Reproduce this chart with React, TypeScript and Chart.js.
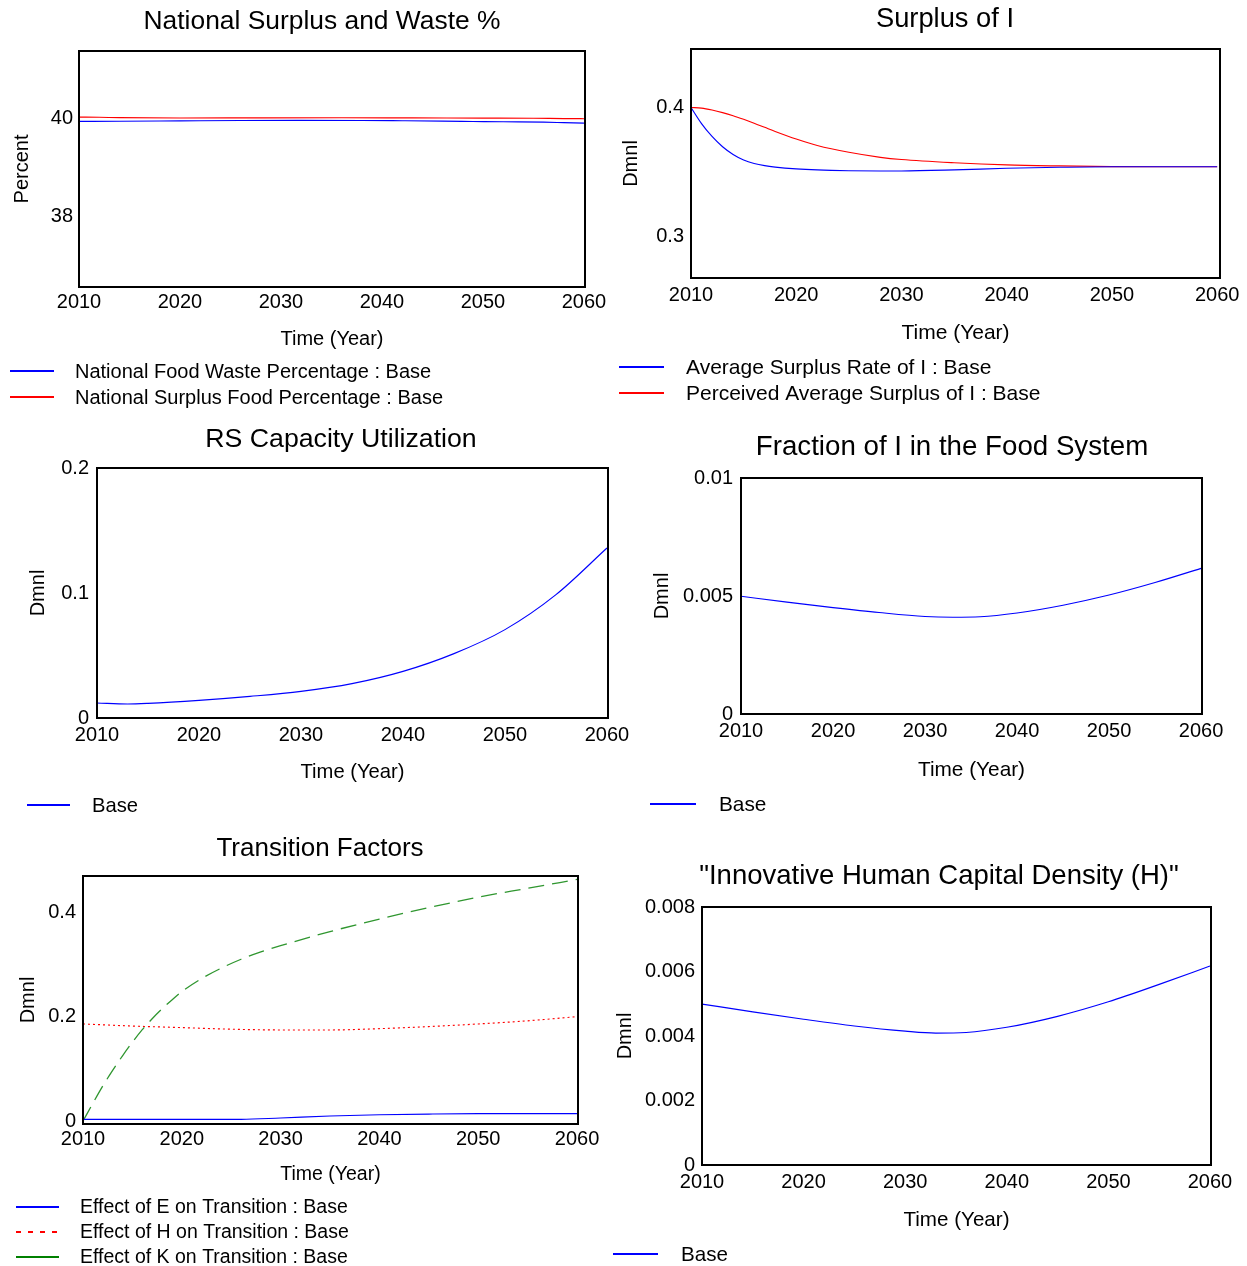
import React, { useEffect, useRef } from 'react';
import { Chart, registerables } from 'chart.js';

Chart.register(...registerables);

const FONT = "'Liberation Sans', Arial, Helvetica, sans-serif";
const PAGE_W = 1247;
const PAGE_H = 1266;

// ---------- shared axis ticks ----------
const xTicks = [2010, 2020, 2030, 2040, 2050, 2060];
const xTickLabels = ['2010', '2020', '2030', '2040', '2050', '2060'];

// ---------- Panel 1: National Surplus and Waste % ----------
const p1WasteYears = [2010, 2014, 2020, 2026, 2032, 2038, 2042, 2046, 2049, 2052, 2056, 2058, 2060];
const p1WasteValues = [39.938, 39.942, 39.949, 39.956, 39.959, 39.957, 39.951, 39.944, 39.937, 39.93, 39.922, 39.913, 39.904];
const p1SurplusYears = [2010, 2012, 2014, 2020, 2028, 2036, 2043, 2050, 2055, 2058, 2060];
const p1SurplusValues = [40.026, 40.022, 40.014, 40.007, 40.011, 40.013, 40.009, 40.006, 40.003, 39.995, 39.993];
const p1YTicks = [38, 40];
const p1YTickLabels = ['38', '40'];

// ---------- Panel 2: Surplus of I ----------
const p2Years = [2010, 2011, 2012, 2013, 2014, 2015, 2016, 2017, 2018, 2020, 2022, 2025, 2028, 2030, 2035, 2040, 2045, 2050, 2055, 2060];
const p2AvgSurplus = [0.4, 0.3875, 0.3775, 0.3695, 0.3635, 0.3592, 0.3565, 0.3548, 0.3537, 0.3523, 0.3515, 0.3509, 0.3507, 0.3507, 0.3515, 0.3528, 0.3536, 0.354, 0.354, 0.354];
const p2Perceived = [0.4, 0.3995, 0.398, 0.396, 0.3936, 0.3908, 0.3878, 0.3846, 0.3814, 0.3755, 0.3705, 0.3652, 0.3613, 0.3596, 0.3571, 0.3554, 0.3546, 0.3541, 0.354, 0.354];
const p2YTicks = [0.3, 0.4];
const p2YTickLabels = ['0.3', '0.4'];

// ---------- Panel 3: RS Capacity Utilization ----------
const p3Years = [2010, 2013, 2015, 2020, 2025, 2030, 2035, 2040, 2045, 2050, 2055, 2060];
const p3Values = [0.012, 0.0112, 0.0117, 0.0141, 0.0173, 0.0213, 0.0275, 0.0373, 0.0515, 0.0707, 0.0987, 0.136];
const p3YTicks = [0, 0.1, 0.2];
const p3YTickLabels = ['0', '0.1', '0.2'];

// ---------- Panel 4: Fraction of I in the Food System ----------
const p4Years = [2010, 2015, 2020, 2025, 2030, 2033, 2036, 2040, 2045, 2050, 2055, 2060];
const p4Values = [0.00499, 0.00474, 0.00451, 0.0043, 0.00413, 0.0041, 0.00412, 0.00428, 0.00461, 0.00504, 0.00557, 0.00617];
const p4YTicks = [0, 0.005, 0.01];
const p4YTickLabels = ['0', '0.005', '0.01'];

// ---------- Panel 5: Transition Factors ----------
const p5EYears = [2010, 2020, 2026, 2030, 2035, 2040, 2045, 2050, 2060];
const p5EValues = [0.003, 0.003, 0.0032, 0.0058, 0.0095, 0.012, 0.0133, 0.014, 0.014];
const p5HYears = [2010, 2015, 2020, 2025, 2030, 2035, 2040, 2045, 2050, 2055, 2060];
const p5HValues = [0.186, 0.182, 0.179, 0.176, 0.1745, 0.1745, 0.177, 0.181, 0.186, 0.192, 0.2];
const p5KYears = [2010, 2011, 2012, 2013, 2014, 2015, 2016, 2017, 2018, 2019, 2020, 2022, 2024, 2026, 2028, 2030, 2035, 2040, 2045, 2050, 2055, 2060];
const p5KValues = [0, 0.034, 0.067, 0.097, 0.125, 0.151, 0.175, 0.196, 0.215, 0.232, 0.248, 0.273, 0.293, 0.31, 0.324, 0.336, 0.363, 0.387, 0.409, 0.429, 0.446, 0.463];
const p5YTicks = [0, 0.2, 0.4];
const p5YTickLabels = ['0', '0.2', '0.4'];

// ---------- Panel 6: Innovative Human Capital Density (H) ----------
const p6Years = [2010, 2015, 2020, 2025, 2030, 2033, 2036, 2040, 2045, 2050, 2055, 2060];
const p6Values = [0.00499, 0.00475, 0.00452, 0.00431, 0.00415, 0.00409, 0.00411, 0.00427, 0.00461, 0.00506, 0.0056, 0.00617];
const p6YTicks = [0, 0.002, 0.004, 0.006, 0.008];
const p6YTickLabels = ['0', '0.002', '0.004', '0.006', '0.008'];

const BLUE = '#0000ff';
const RED = '#ff0000';
const GREEN_LINE = '#2f962f';
const GREEN_KEY = '#008000';

type Box = { L: number; R: number; T: number; B: number };
type LegendSpec = { x1: number; x2: number; tx: number; ys: number[]; dashes: number[][]; colors: string[] };
type PanelCfg = {
  box: Box;
  padLeft: number;
  xH: number;
  xTickPad: number;
  yTickPad: number;
  xMax: number;
  yMin: number;
  yMax: number;
  yTicks: number[];
  yTickLabels: string[];
  yTitle: string;
  title: string;
  titleX: number;
  titleY: number;
  titleSize: number;
  textSize: number;
  datasets: any[];
  legend: LegendSpec;
};

function series(label: string, years: number[], values: number[], color: string, dash: number[] = [], width = 1.15) {
  return {
    label,
    data: years.map((x, i) => ({ x, y: values[i] })),
    borderColor: color,
    backgroundColor: color,
    borderWidth: width,
    borderDash: dash,
    pointRadius: 0,
    pointHoverRadius: 0,
    fill: false,
    cubicInterpolationMode: 'monotone',
  };
}

const panels: PanelCfg[] = [
  {
    box: { L: 79, R: 585, T: 51, B: 287 },
    padLeft: 10, xH: 64, xTickPad: 3, yTickPad: 6,
    xMax: 2060.1, yMin: 36.57, yMax: 41.37,
    yTicks: p1YTicks, yTickLabels: p1YTickLabels, yTitle: 'Percent',
    title: 'National Surplus and Waste %', titleX: 322, titleY: 29, titleSize: 26.4, textSize: 20,
    datasets: [
      series('National Food Waste Percentage : Base', p1WasteYears, p1WasteValues, BLUE),
      series('National Surplus Food Percentage : Base', p1SurplusYears, p1SurplusValues, RED),
    ],
    legend: { x1: 10, x2: 54, tx: 75, ys: [371, 397], dashes: [[], []], colors: [BLUE, RED] },
  },
  {
    box: { L: 691, R: 1220, T: 49, B: 278 },
    padLeft: 619, xH: 67, xTickPad: 5, yTickPad: 7,
    xMax: 2060.27, yMin: 0.2676, yMax: 0.4454,
    yTicks: p2YTicks, yTickLabels: p2YTickLabels, yTitle: 'Dmnl',
    title: 'Surplus of I', titleX: 945, titleY: 27, titleSize: 27.3, textSize: 21,
    datasets: [
      series('Average Surplus Rate of I : Base', p2Years, p2AvgSurplus, BLUE),
      series('Perceived Average Surplus of I : Base', p2Years, p2Perceived, RED),
    ],
    legend: { x1: 619, x2: 664, tx: 686, ys: [367, 393], dashes: [[], []], colors: [BLUE, RED] },
  },
  {
    box: { L: 97, R: 608, T: 468, B: 718 },
    padLeft: 26, xH: 66, xTickPad: 5, yTickPad: 8,
    xMax: 2060.1, yMin: 0, yMax: 0.2,
    yTicks: p3YTicks, yTickLabels: p3YTickLabels, yTitle: 'Dmnl',
    title: 'RS Capacity Utilization', titleX: 341, titleY: 447, titleSize: 26.7, textSize: 20.2,
    datasets: [series('Base', p3Years, p3Values, BLUE)],
    legend: { x1: 27, x2: 70, tx: 92, ys: [805], dashes: [[]], colors: [BLUE] },
  },
  {
    box: { L: 741, R: 1202, T: 478, B: 714 },
    padLeft: 650, xH: 68, xTickPad: 5, yTickPad: 8,
    xMax: 2060.1, yMin: 0, yMax: 0.01,
    yTicks: p4YTicks, yTickLabels: p4YTickLabels, yTitle: 'Dmnl',
    title: 'Fraction of I in the Food System', titleX: 952, titleY: 455, titleSize: 27.7, textSize: 20.8,
    datasets: [series('Base', p4Years, p4Values, BLUE)],
    legend: { x1: 650, x2: 696, tx: 719, ys: [804], dashes: [[]], colors: [BLUE] },
  },
  {
    box: { L: 83, R: 578, T: 876, B: 1124 },
    padLeft: 16, xH: 63, xTickPad: 3, yTickPad: 7,
    xMax: 2060.1, yMin: -0.00575, yMax: 0.4696,
    yTicks: p5YTicks, yTickLabels: p5YTickLabels, yTitle: 'Dmnl',
    title: 'Transition Factors', titleX: 320, titleY: 856, titleSize: 26, textSize: 19.5,
    datasets: [
      series('Effect of E on Transition : Base', p5EYears, p5EValues, BLUE),
      series('Effect of H on Transition : Base', p5HYears, p5HValues, RED, [2, 3]),
      series('Effect of K on Transition : Base', p5KYears, p5KValues, GREEN_LINE, [16, 8], 1.3),
    ],
    legend: { x1: 16, x2: 59, tx: 80, ys: [1207, 1232, 1257], dashes: [[], [5, 7], []], colors: [BLUE, RED, GREEN_KEY] },
  },
  {
    box: { L: 702, R: 1211, T: 907, B: 1165 },
    padLeft: 613, xH: 67, xTickPad: 5, yTickPad: 7,
    xMax: 2060.1, yMin: 0, yMax: 0.008,
    yTicks: p6YTicks, yTickLabels: p6YTickLabels, yTitle: 'Dmnl',
    title: '"Innovative Human Capital Density (H)"', titleX: 939, titleY: 884, titleSize: 27.5, textSize: 20.6,
    datasets: [series('Base', p6Years, p6Values, BLUE)],
    legend: { x1: 613, x2: 658, tx: 681, ys: [1254], dashes: [[]], colors: [BLUE] },
  },
];

function buildConfig(cfg: PanelCfg): any {
  const { box } = cfg;
  const decor = {
    id: 'decor',
    afterDatasetsDraw(chart: any) {
      const { ctx, chartArea } = chart;
      ctx.save();
      ctx.setLineDash([]);
      ctx.strokeStyle = '#000';
      ctx.lineWidth = 2;
      ctx.strokeRect(chartArea.left, chartArea.top, chartArea.right - chartArea.left, chartArea.bottom - chartArea.top);

      ctx.fillStyle = '#000';
      ctx.font = `${cfg.titleSize}px ${FONT}`;
      ctx.textAlign = 'center';
      ctx.textBaseline = 'alphabetic';
      ctx.fillText(cfg.title, cfg.titleX, cfg.titleY);

      const lg = cfg.legend;
      ctx.font = `${cfg.textSize}px ${FONT}`;
      ctx.textAlign = 'left';
      ctx.textBaseline = 'middle';
      chart.data.datasets.forEach((ds: any, i: number) => {
        const y = lg.ys[i];
        ctx.beginPath();
        ctx.setLineDash(lg.dashes[i]);
        ctx.strokeStyle = lg.colors[i];
        ctx.lineWidth = 2;
        ctx.moveTo(lg.x1, y);
        ctx.lineTo(lg.x2, y);
        ctx.stroke();
        ctx.setLineDash([]);
        ctx.fillStyle = '#000';
        ctx.fillText(ds.label, lg.tx, y + 1);
      });
      ctx.restore();
    },
  };

  return {
    type: 'line',
    data: { datasets: cfg.datasets },
    plugins: [decor],
    options: {
      animation: false,
      responsive: false,
      devicePixelRatio: 1,
      events: [],
      layout: {
        padding: {
          left: cfg.padLeft,
          top: box.T,
          right: PAGE_W - box.R,
          bottom: PAGE_H - box.B - cfg.xH,
        },
      },
      plugins: {
        legend: { display: false },
        title: { display: false },
        tooltip: { enabled: false },
      },
      scales: {
        x: {
          type: 'linear',
          min: 2010,
          max: cfg.xMax,
          afterBuildTicks: (s: any) => {
            s.ticks = xTicks.map((v) => ({ value: v }));
          },
          afterFit: (s: any) => {
            s.height = cfg.xH;
          },
          ticks: {
            autoSkip: false,
            maxRotation: 0,
            minRotation: 0,
            padding: cfg.xTickPad,
            color: '#000',
            font: { size: 20, family: FONT },
            callback: (_v: any, i: number) => xTickLabels[i],
          },
          grid: { display: false, drawTicks: false },
          border: { display: false },
          title: {
            display: true,
            text: 'Time (Year)',
            color: '#000',
            font: { size: cfg.textSize, family: FONT, lineHeight: 24 / cfg.textSize },
            padding: 0,
          },
        },
        y: {
          type: 'linear',
          min: cfg.yMin,
          max: cfg.yMax,
          afterBuildTicks: (s: any) => {
            s.ticks = cfg.yTicks.map((v) => ({ value: v }));
          },
          afterFit: (s: any) => {
            s.width = box.L - cfg.padLeft;
          },
          ticks: {
            autoSkip: false,
            padding: cfg.yTickPad,
            color: '#000',
            font: { size: 20, family: FONT },
            callback: (_v: any, i: number) => cfg.yTickLabels[i],
          },
          grid: { display: false, drawTicks: false },
          border: { display: false },
          title: {
            display: true,
            text: cfg.yTitle,
            color: '#000',
            font: { size: 20, family: FONT },
            padding: 0,
          },
        },
      },
    },
  };
}

function Panel({ cfg }: { cfg: PanelCfg }) {
  const ref = useRef<HTMLCanvasElement>(null);
  useEffect(() => {
    if (!ref.current) return;
    const chart = new Chart(ref.current, buildConfig(cfg));
    return () => chart.destroy();
  }, [cfg]);
  return (
    <canvas
      ref={ref}
      width={PAGE_W}
      height={PAGE_H}
      style={{ position: 'absolute', left: 0, top: 0, width: PAGE_W, height: PAGE_H }}
    />
  );
}

export default function App() {
  return (
    <div
      style={{
        position: 'absolute',
        left: 0,
        top: 0,
        width: PAGE_W,
        height: PAGE_H,
        background: '#ffffff',
        overflow: 'hidden',
      }}
    >
      {panels.map((cfg, i) => (
        <Panel key={i} cfg={cfg} />
      ))}
    </div>
  );
}
